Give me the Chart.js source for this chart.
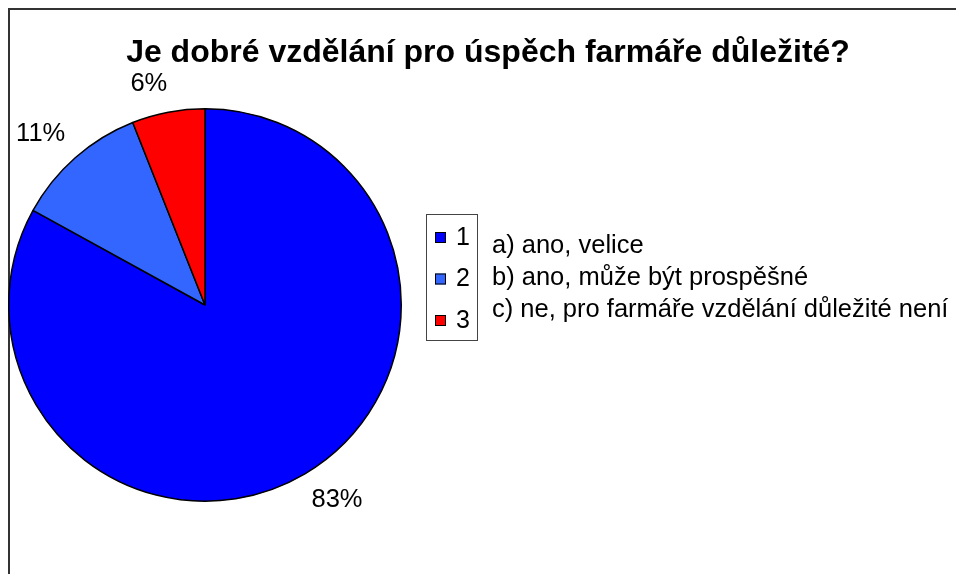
<!DOCTYPE html>
<html lang="cs">
<head>
    <meta charset="UTF-8">
    <title>Je dobré vzdělání pro úspěch farmáře důležité?</title>
    <script src="https://cdn.jsdelivr.net/npm/chart.js@4.4.0/dist/chart.umd.min.js"></script>
    <style>
        body { margin: 0; background: #fff; }
        canvas { display: block; }
    </style>
</head>
<body>
    <canvas id="chart" width="956" height="574"></canvas>

    <script>
        const chartTitle = 'Je dobré vzdělání pro úspěch farmáře důležité?';
        const categories = ['1', '2', '3'];
        const answers = [
            'a) ano, velice',
            'b) ano, může být prospěšné',
            'c) ne, pro farmáře vzdělání důležité není'
        ];
        const shares = [83, 11, 6];
        const colors = ['#0000FF', '#3366FF', '#FF0000'];

        const FONT = '"Liberation Sans", Arial, sans-serif';

        // frame, title, outside % labels, legend box and answer texts
        const extras = {
            id: 'extras',
            beforeDraw(chart) {
                const c = chart.ctx;
                c.save();
                c.fillStyle = '#fff';
                c.fillRect(0, 0, chart.width, chart.height);
                c.strokeStyle = '#333';
                c.lineWidth = 2;
                c.strokeRect(9, 9, chart.width + 20, chart.height + 20);
                c.restore();
            },
            afterDatasetsDraw(chart) {
                const c = chart.ctx;
                const meta = chart.getDatasetMeta(0);
                const total = shares.reduce((a, b) => a + b, 0);
                c.save();

                // title
                c.fillStyle = '#000';
                c.font = 'bold 32px ' + FONT;
                c.textAlign = 'center';
                c.textBaseline = 'alphabetic';
                c.fillText(chartTitle, 488, 62);

                // percentage labels outside the slices, box corner at the anchor
                c.font = '25.5px ' + FONT;
                c.textBaseline = 'middle';
                meta.data.forEach((arc, i) => {
                    const p = arc.getProps(['x', 'y', 'startAngle', 'endAngle', 'outerRadius'], true);
                    const mid = (p.startAngle + p.endAngle) / 2;
                    const txt = Math.round(shares[i] / total * 100) + '%';
                    const w = c.measureText(txt).width;
                    const h = 16;
                    const dx = Math.cos(mid), dy = Math.sin(mid);
                    const rr = p.outerRadius + 21;
                    c.fillText(txt, p.x + dx * rr + Math.sign(dx) * w * 0.42,
                        p.y + dy * rr + Math.sign(dy) * h / 2);
                });

                // legend box
                c.strokeStyle = '#444';
                c.lineWidth = 1;
                c.strokeRect(426.5, 214.5, 51, 126);
                c.textAlign = 'left';
                categories.forEach((cat, i) => {
                    const ry = 237 + i * 41.5;
                    c.fillStyle = colors[i];
                    c.fillRect(435, ry - 5, 11, 11);
                    c.strokeStyle = '#000';
                    c.strokeRect(435.5, ry - 4.5, 10, 10);
                    c.fillStyle = '#000';
                    c.font = '25px ' + FONT;
                    c.fillText(cat, 456, ry + 1);
                });

                // answer texts next to the legend
                c.font = '25.5px ' + FONT;
                answers.forEach((a, i) => {
                    c.fillText(a, 492, 246 + i * 32);
                });
                c.restore();
            }
        };

        new Chart(document.getElementById('chart'), {
            type: 'pie',
            data: {
                labels: categories,
                datasets: [{
                    data: shares,
                    backgroundColor: colors,
                    borderColor: '#000',
                    borderWidth: 1.5
                }]
            },
            options: {
                responsive: false,
                devicePixelRatio: 1,
                animation: false,
                layout: {
                    padding: { left: 8, top: 108, right: 554, bottom: 72 }
                },
                plugins: {
                    legend: { display: false },
                    tooltip: { enabled: false }
                }
            },
            plugins: [extras]
        });
    </script>
</body>
</html>
